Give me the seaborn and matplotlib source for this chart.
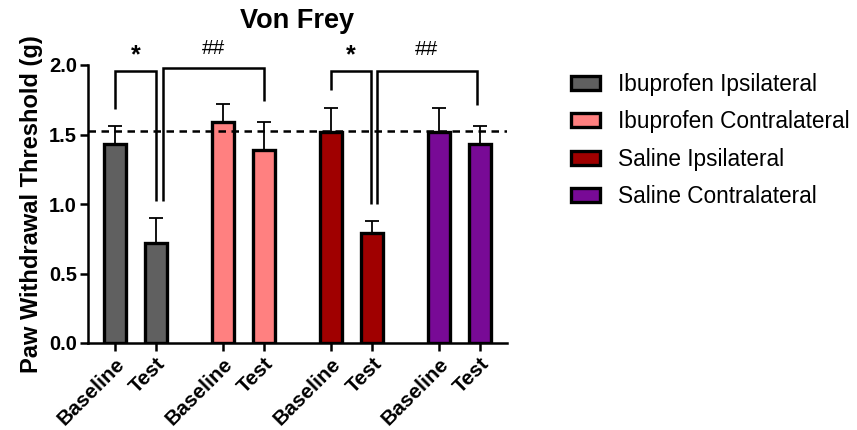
import matplotlib
matplotlib.use("Agg")
import matplotlib.pyplot as plt
from matplotlib.patches import Patch
import seaborn as sns
import pandas as pd
import numpy as np

# ---- data ----
groups = ["Ibuprofen Ipsilateral", "Ibuprofen Contralateral",
          "Saline Ipsilateral", "Saline Contralateral"]
timepoints = ["Baseline", "Test"]
ibu_ipsi = [1.43, 0.72]
ibu_contra = [1.59, 1.39]
sal_ipsi = [1.52, 0.79]
sal_contra = [1.52, 1.43]
ibu_ipsi_err = [0.13, 0.18]
ibu_contra_err = [0.13, 0.20]
sal_ipsi_err = [0.17, 0.09]
sal_contra_err = [0.17, 0.13]
baseline_ref = 1.525
colors = ["#606060", "#FF8080", "#A00000", "#780A96"]

values = ibu_ipsi + ibu_contra + sal_ipsi + sal_contra
errors = ibu_ipsi_err + ibu_contra_err + sal_ipsi_err + sal_contra_err

# layout positions of bars
positions = [0, 1, 2.63, 3.63, 5.27, 6.27, 7.9, 8.9]

df = pd.DataFrame({
    "pos": positions,
    "value": values,
    "group": [g for g in groups for _ in timepoints],
    "time": timepoints * len(groups),
})

sns.set_style("ticks")
plt.rcParams["font.family"] = ["Liberation Sans", "DejaVu Sans"]
plt.rcParams.update({"text.color": "black", "axes.labelcolor": "black",
                     "xtick.color": "black", "ytick.color": "black",
                     "axes.edgecolor": "black"})

fig = plt.figure(figsize=(8.57, 4.30), dpi=100)
ax = fig.add_axes([88/857, 1-343/430, (507-88)/857, (343-65)/430])

# error bars (upper only)
ax.errorbar(df["pos"], df["value"], yerr=[np.zeros(len(errors)), errors],
            fmt="none", ecolor="black", elinewidth=1.3, capsize=5, capthick=1.3,
            zorder=1)

sns.barplot(data=df, x="pos", y="value", hue="group", hue_order=groups,
            palette=colors, saturation=1, native_scale=True, dodge=False, width=0.55,
            edgecolor="black", linewidth=2.4, legend=False, ax=ax, zorder=2)

ax.axhline(baseline_ref, color="black", linestyle=(0, (3, 2.2)), linewidth=1.8, zorder=3)

ax.set_xlim(-0.66, 9.56)
ax.set_ylim(0, 2.0)
ax.set_yticks([0, 0.5, 1.0, 1.5, 2.0])
ax.set_yticklabels(["0.0", "0.5", "1.0", "1.5", "2.0"], fontsize=14.5, fontweight="bold")
ax.set_xticks(positions)
ax.set_xticklabels(df["time"], fontsize=15, fontweight="bold", rotation=45,
                   ha="right", va="top", rotation_mode="anchor")
ax.set_xlabel("")
ax.set_ylabel("Paw Withdrawal Threshold (g)", fontsize=17, fontweight="bold", labelpad=4)
ax.set_title("Von Frey", fontsize=19.5, fontweight="bold", pad=27)

for s in ["top", "right"]:
    ax.spines[s].set_visible(False)
for s in ["left", "bottom"]:
    ax.spines[s].set_linewidth(1.8)
ax.tick_params(axis="both", direction="out", length=6, width=1.8, pad=2, colors="black")

# significance brackets
def bracket(x1, y1, x2, y2, top, label, ty, fs, fw):
    ax.plot([x1, x1, x2, x2], [y1, top, top, y2], color="black", lw=1.8,
            clip_on=False, solid_capstyle="butt", solid_joinstyle="miter")
    ax.text((x1 + x2) / 2, ty, label, ha="center", va="center",
            fontsize=fs, fontweight=fw, clip_on=False, color="black")

bracket(positions[0], 1.68, positions[1], 1.02, 1.96, "*", 2.07, 18, "bold")
bracket(positions[1] + 0.17, 1.02, positions[3], 1.74, 1.98, "##", 2.12, 15, "normal")
bracket(positions[4], 1.82, positions[5] - 0.03, 1.00, 1.96, "*", 2.07, 18, "bold")
bracket(positions[5] + 0.12, 1.00, positions[7] - 0.08, 1.71, 1.96, "##", 2.11, 15, "normal")

handles = [Patch(facecolor=c, edgecolor="black", linewidth=2.4) for c in colors]
fig.legend(handles, groups, loc="upper left", bbox_to_anchor=(0.643, 0.878),
           frameon=False, fontsize=16.3, handlelength=1.25, handleheight=0.55,
           handletextpad=0.8, labelspacing=0.64, labelcolor="black")

fig.savefig("out.png", dpi=100)
